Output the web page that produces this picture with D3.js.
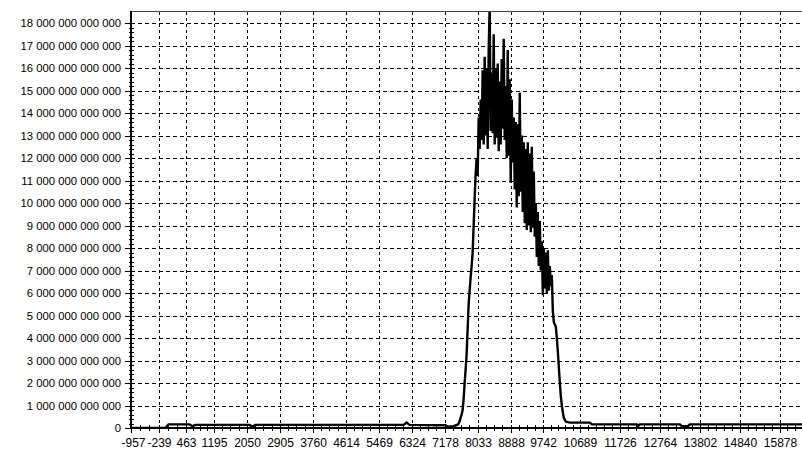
<!DOCTYPE html>
<html>
<head>
<meta charset="utf-8">
<script src="https://d3js.org/d3.v7.min.js"></script>
<style>
  body { margin: 0; background: #fff; }
  text { font-family: "Liberation Sans", Arial, sans-serif; font-size: 12px; fill: #000; }
  .ylab { font-size: 11.3px; }
</style>
</head>
<body>
<svg id="chart" width="802" height="450"></svg>
<script>
// tick labels
var xTicks = [-957, -239, 463, 1195, 2050, 2905, 3760, 4614, 5469, 6324, 7178, 8033, 8888, 9742, 10689, 11726, 12764, 13802, 14840, 15878];
var yTicks = [0, 1e12, 2e12, 3e12, 4e12, 5e12, 6e12, 7e12, 8e12, 9e12, 10e12, 11e12, 12e12, 13e12, 14e12, 15e12, 16e12, 17e12, 18e12];

// series: x values and y values (in trillions)
var xs = [-957, -62, 16, 561, 639, 717, 2118, 2196, 2274, 6114, 6192, 6270, 7204, 7256, 7412, 7464,
  7516, 7542, 7568, 7594, 7620, 7646, 7672, 7698, 7724, 7750, 7776, 7802, 7828, 7854, 7880, 7906, 7932, 7958, 7984,
  8010, 8036, 8062, 8088, 8114, 8140, 8166, 8192, 8218, 8244, 8270, 8296, 8322, 8348, 8374, 8400, 8426, 8452, 8478, 8504,
  8530, 8556, 8582, 8608, 8634, 8660, 8686, 8712, 8738, 8764, 8790, 8816, 8842, 8868, 8894, 8920, 8946, 8972, 8998, 9024,
  9050, 9076, 9102, 9128, 9154, 9180, 9206, 9232, 9258, 9284, 9310, 9336, 9362, 9388, 9414, 9440, 9466, 9492, 9518, 9544,
  9570, 9596, 9622, 9648, 9674, 9700, 9726, 9752, 9778, 9804, 9830, 9856, 9882, 9908, 9934, 9960, 9986,
  10012, 10064, 10090, 10116, 10142, 10168, 10194, 10220, 10246, 10272, 10324, 10428, 10946, 10998,
  12166, 12192, 12244, 13282, 13334, 13490, 13541, 16450];
var ys = [0, 0, 0.16, 0.16, 0.08, 0.14, 0.14, 0.06, 0.14, 0.14, 0.24, 0.14, 0.12, 0.06, 0.08, 0.12,
  0.15, 0.2, 0.3, 0.45, 0.6, 0.8, 1.3, 2.0, 2.6, 3.3, 4.4, 5.5, 6.1, 6.7, 7.2, 7.8, 9.0, 10.2, 11.3,
  12.0, 11.2, 13.8, 12.4, 14.6, 12.8, 15.9, 12.6, 16.5, 13.0, 16.0, 12.4, 16.8, 18.8, 13.2, 15.8, 13.1, 17.5, 12.6, 16.0,
  12.9, 16.2, 12.3, 15.4, 12.6, 16.4, 13.3, 17.3, 12.8, 15.2, 12.0, 16.8, 12.1, 15.5, 10.9, 14.6, 11.8, 13.8, 10.6, 13.6,
  9.8, 13.5, 10.3, 14.9, 10.5, 13.0, 9.6, 12.7, 9.1, 12.4, 8.8, 12.7, 9.0, 12.2, 8.7, 12.5, 8.9, 11.4, 8.5, 10.0,
  7.6, 9.6, 7.2, 9.2, 7.0, 8.3, 5.9, 8.0, 6.2, 7.8, 6.0, 7.9, 6.1, 7.2, 6.3, 6.8, 5.2,
  4.7, 4.5, 4.0, 3.4, 2.7, 2.0, 1.4, 1.0, 0.7, 0.45, 0.28, 0.24, 0.24, 0.16,
  0.16, 0.08, 0.16, 0.16, 0.08, 0.08, 0.16, 0.16];

(function() {
  var data = xs.map(function(x, i) { return { x: x, y: ys[i] * 1e12 }; });

  var plotL = 131, plotR = 802, plotT = 12, plotB = 428;

  var svg = d3.select("#chart");

  var x = d3.scaleLinear().domain([-957, 16450]).range([plotL, plotR]);
  var y = d3.scaleLinear().domain([0, 18.49e12]).range([plotB, plotT]);

  var fmt = function(v) { return d3.format(",.0f")(v).replace(/,/g, " "); };

  // grid
  svg.append("g").selectAll("line").data(yTicks.slice(1)).enter().append("line")
    .attr("x1", plotL).attr("x2", plotR)
    .attr("y1", function(d) { return Math.round(y(d)) + 0.5; })
    .attr("y2", function(d) { return Math.round(y(d)) + 0.5; })
    .attr("stroke", "#000").attr("stroke-dasharray", "4,3")
    .attr("shape-rendering", "crispEdges");

  svg.append("g").selectAll("line").data(xTicks.slice(1)).enter().append("line")
    .attr("x1", function(d) { return Math.round(x(d)) + 0.5; })
    .attr("x2", function(d) { return Math.round(x(d)) + 0.5; })
    .attr("y1", plotT).attr("y2", plotB)
    .attr("stroke", "#000").attr("stroke-dasharray", "3,3")
    .attr("shape-rendering", "crispEdges");

  // top border
  svg.append("line").attr("x1", plotL).attr("x2", plotR).attr("y1", plotT - 0.5).attr("y2", plotT - 0.5)
    .attr("stroke", "#444").attr("shape-rendering", "crispEdges");

  // series line
  svg.append("clipPath").attr("id", "clip").append("rect")
    .attr("x", plotL).attr("y", plotT).attr("width", plotR - plotL).attr("height", plotB - plotT);

  svg.append("path")
    .datum(data)
    .attr("clip-path", "url(#clip)")
    .attr("fill", "none")
    .attr("stroke", "#000")
    .attr("stroke-width", 2.4)
    .attr("stroke-linejoin", "miter")
    .attr("d", d3.line().x(function(d) { return x(d.x); }).y(function(d) { return y(d.y); }));

  // y axis
  var yAxis = svg.append("g");
  yAxis.append("line").attr("x1", plotL).attr("x2", plotL).attr("y1", plotT - 1).attr("y2", plotB + 1)
    .attr("stroke", "#000").attr("stroke-width", 2).attr("shape-rendering", "crispEdges");
  yTicks.forEach(function(t, i) {
    var py = Math.round(y(t)) + 0.5;
    yAxis.append("line").attr("x1", plotL - 6).attr("x2", plotL).attr("y1", py).attr("y2", py)
      .attr("stroke", "#000").attr("shape-rendering", "crispEdges");
    yAxis.append("text").attr("class", "ylab").attr("x", plotL - 10).attr("y", py).attr("dy", "0.35em")
      .attr("text-anchor", "end").text(fmt(t));
    if (i < yTicks.length - 1) {
      for (var k = 1; k < 5; k++) {
        var my = Math.round(y(t + k * 0.2e12)) + 0.5;
        yAxis.append("line").attr("x1", plotL - 2).attr("x2", plotL + 3).attr("y1", my).attr("y2", my)
          .attr("stroke", "#000").attr("shape-rendering", "crispEdges");
      }
    }
  });

  // x axis
  var xAxis = svg.append("g");
  xAxis.append("line").attr("x1", plotL - 1).attr("x2", plotR).attr("y1", plotB).attr("y2", plotB)
    .attr("stroke", "#000").attr("stroke-width", 2).attr("shape-rendering", "crispEdges");
  xTicks.forEach(function(t, i) {
    var px = Math.round(x(t)) + 0.5;
    xAxis.append("line").attr("x1", px).attr("x2", px).attr("y1", plotB - 3).attr("y2", plotB + 5)
      .attr("stroke", "#000").attr("shape-rendering", "crispEdges");
    xAxis.append("text").attr("x", i === 0 ? px + 2 : px).attr("y", 447).attr("text-anchor", "middle").text(t);
    var next = i < xTicks.length - 1 ? x(xTicks[i + 1]) : plotR;
    var w = next - x(t), n = Math.round(w / 8);
    for (var k = 1; k < n; k++) {
      var mx = Math.round(x(t) + k * w / n) + 0.5;
      xAxis.append("line").attr("x1", mx).attr("x2", mx).attr("y1", plotB - 3).attr("y2", plotB + 3)
        .attr("stroke", "#000").attr("shape-rendering", "crispEdges");
    }
  });
})();
</script>
</body>
</html>
